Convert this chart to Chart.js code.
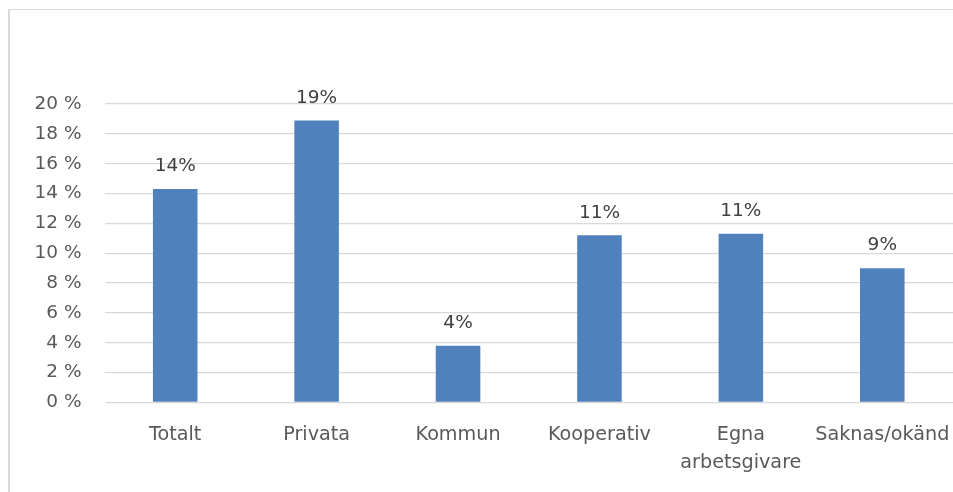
<!DOCTYPE html>
<html>
<head>
<meta charset="utf-8">
<script src="https://cdn.jsdelivr.net/npm/chart.js@4"></script>
<style>
  html, body { margin: 0; padding: 0; width: 953px; height: 492px; overflow: hidden; background: #ffffff; }
  #c { position: absolute; left: 0; top: 0; }
</style>
</head>
<body>
<canvas id="c" width="953" height="492" style="width:953px;height:492px"></canvas>
<script>
const categories = ['Totalt', 'Privata', 'Kommun', 'Kooperativ', ['Egna', 'arbetsgivare'], 'Saknas/okänd'];
const values = [14.3, 18.9, 3.8, 11.2, 11.3, 9.0];
const valueLabels = ['14%', '19%', '4%', '11%', '11%', '9%'];
const yTicks = [0, 2, 4, 6, 8, 10, 12, 14, 16, 18, 20];

const FONT = 'DejaVu Sans';
const FSIZE = 18.5;
const XSIZE = 19.2;

const framePlugin = {
  id: 'frame',
  beforeDraw(chart) {
    const ctx = chart.ctx;
    ctx.save();
    ctx.fillStyle = '#ffffff';
    ctx.fillRect(0, 0, chart.width, chart.height);
    ctx.fillStyle = '#d9d9d9';
    ctx.fillRect(8, 9, 2, chart.height - 9);
    ctx.fillRect(8, 9, chart.width - 8, 1);
    ctx.restore();
  }
};

const dataLabelPlugin = {
  id: 'dataLabels',
  afterDatasetsDraw(chart) {
    const ctx = chart.ctx;
    const meta = chart.getDatasetMeta(0);
    ctx.save();
    ctx.font = FSIZE + 'px "' + FONT + '"';
    ctx.fillStyle = '#404040';
    ctx.textAlign = 'center';
    ctx.textBaseline = 'alphabetic';
    meta.data.forEach((bar, i) => {
      ctx.fillText(valueLabels[i], bar.x, bar.y - 17.7);
    });
    ctx.restore();
  }
};

new Chart(document.getElementById('c'), {
  type: 'bar',
  data: {
    labels: categories,
    datasets: [{
      data: values,
      backgroundColor: '#4f81bd',
      borderWidth: 0,
      categoryPercentage: 1.0,
      barPercentage: 0.315
    }]
  },
  options: {
    responsive: false,
    animation: false,
    events: [],
    layout: { padding: { left: 0, right: 0, top: 104, bottom: 0 } },
    plugins: { legend: { display: false }, tooltip: { enabled: false } },
    scales: {
      x: {
        grid: { display: false, drawTicks: false },
        border: { display: false },
        ticks: {
          color: '#595959',
          font: { family: FONT, size: XSIZE, lineHeight: '28px' },
          padding: 19,
          maxRotation: 0,
          autoSkip: false
        },
        afterFit(scale) {
          scale.height = 89.5;
          scale.paddingLeft = 0;
          scale.paddingRight = 0;
        }
      },
      y: {
        min: 0,
        max: 20,
        afterBuildTicks(scale) { scale.ticks = yTicks.map(v => ({ value: v })); },
        grid: { color: '#d9d9d9', lineWidth: 1.3, drawTicks: false },
        border: { display: false },
        ticks: {
          color: '#595959',
          font: { family: FONT, size: FSIZE },
          padding: 23,
          callback: v => v + ' %'
        },
        afterFit(scale) { scale.width = 104.5; }
      }
    }
  },
  plugins: [framePlugin, dataLabelPlugin]
});
</script>
</body>
</html>
